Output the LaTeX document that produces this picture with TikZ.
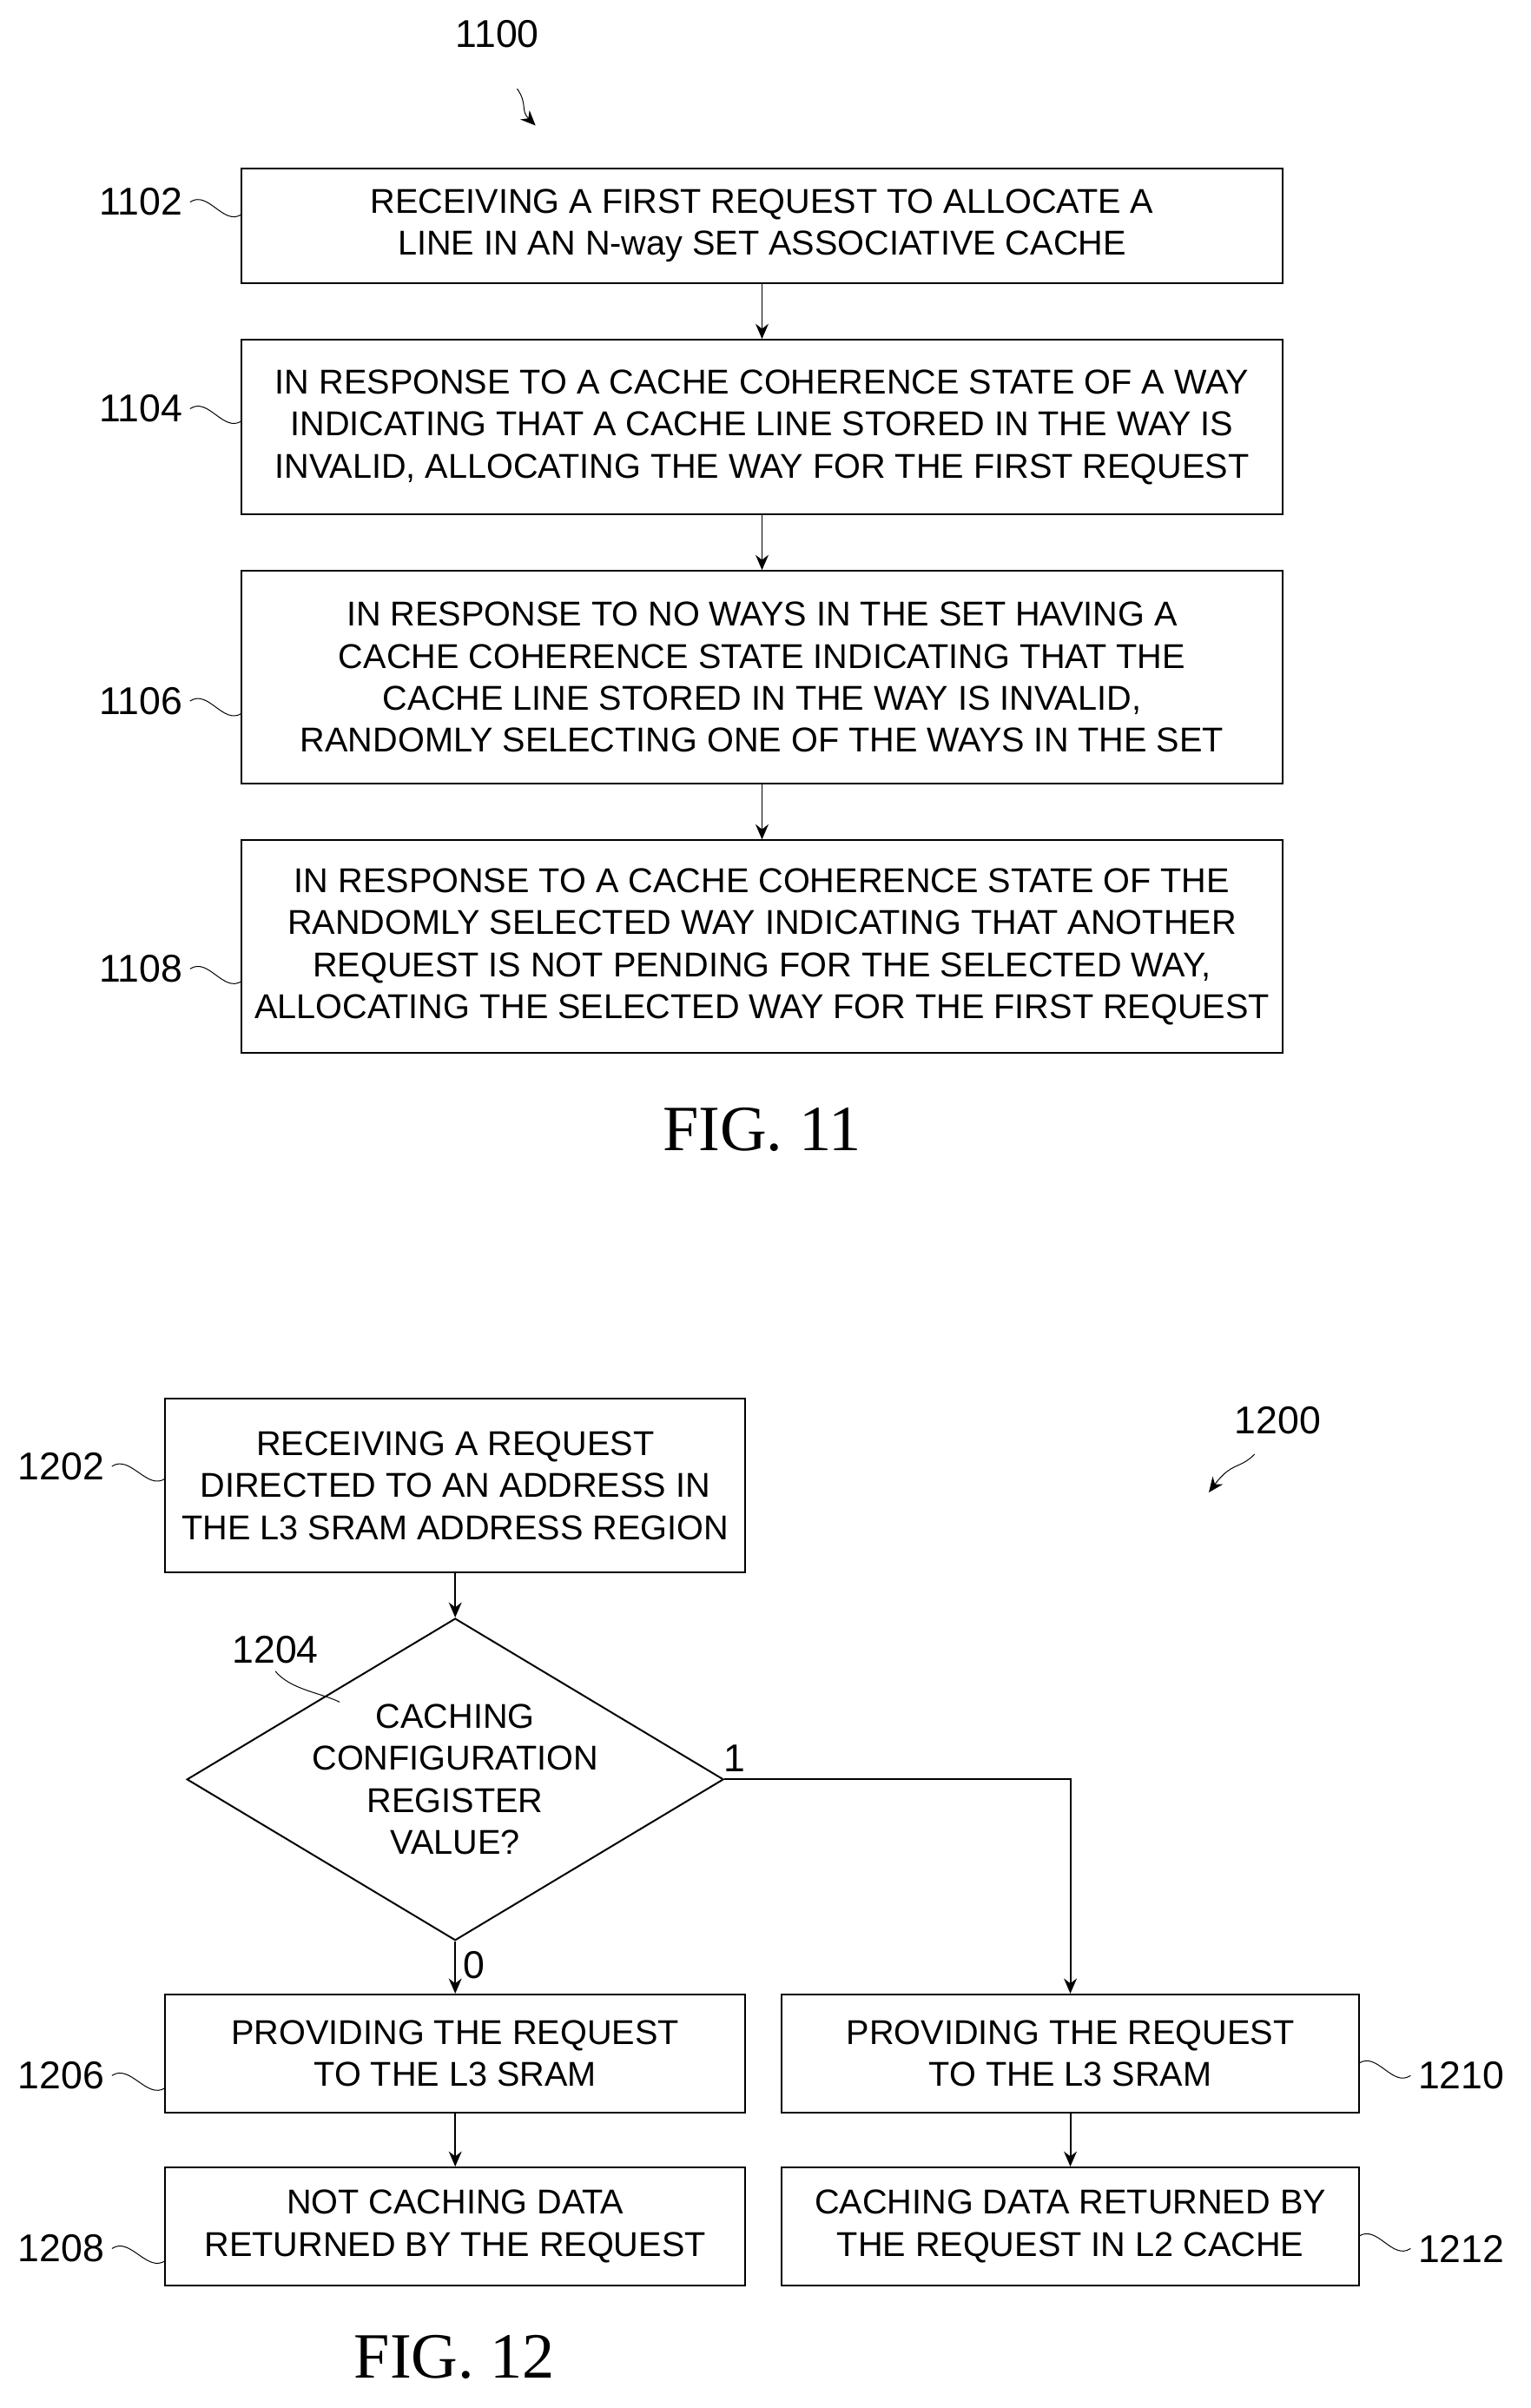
\documentclass[tikz,border=0pt]{standalone}
\usepackage{fontspec}
\setmainfont{Liberation Serif}
\setsansfont{Liberation Sans}
\usetikzlibrary{shapes.geometric,arrows.meta,positioning}
\tikzset{
  blk/.style={draw, thick, minimum width=17cm, align=center, font=\sffamily\fontsize{16}{19.5}\selectfont},
  lbl/.style={font=\sffamily\fontsize{18}{20}\selectfont},
  flow/.style={thick,-{Stealth[length=7pt,width=6pt]}},
  tick/.style={thin},
}
\begin{document}
\begin{tikzpicture}[x=0.025cm,y=-0.025cm]
\useasboundingbox (0,0) rectangle (1000,1573.2);

% FIG. 11
\node[lbl] (n1100) at (325,22) {1100};
\draw[flow,thin] (338,58) .. controls (345,68) and (340,72) .. (350,82);

\node[blk, minimum height=1.875cm] (s1102) at (498,147.5) {RECEIVING A FIRST REQUEST TO ALLOCATE A\\LINE IN AN N-way SET ASSOCIATIVE CACHE};
\node[blk, minimum height=2.85cm] (s1104) at (498,279) {IN RESPONSE TO A CACHE COHERENCE STATE OF A WAY\\INDICATING THAT A CACHE LINE STORED IN THE WAY IS\\INVALID, ALLOCATING THE WAY FOR THE FIRST REQUEST};
\node[blk, minimum height=3.475cm] (s1106) at (498,442.5) {IN RESPONSE TO NO WAYS IN THE SET HAVING A\\CACHE COHERENCE STATE INDICATING THAT THE\\CACHE LINE STORED IN THE WAY IS INVALID,\\RANDOMLY SELECTING ONE OF THE WAYS IN THE SET};
\node[blk, minimum height=3.475cm] (s1108) at (498,618.5) {IN RESPONSE TO A CACHE COHERENCE STATE OF THE\\RANDOMLY SELECTED WAY INDICATING THAT ANOTHER\\REQUEST IS NOT PENDING FOR THE SELECTED WAY,\\ALLOCATING THE SELECTED WAY FOR THE FIRST REQUEST};

\draw[flow] (s1102) -- (s1104);
\draw[flow] (s1104) -- (s1106);
\draw[flow] (s1106) -- (s1108);

\node[lbl] (l1102) at (92,132) {1102};
\node[lbl] (l1104) at (92,267) {1104};
\node[lbl] (l1106) at (92,458) {1106};
\node[lbl] (l1108) at (92,633) {1108};
\foreach \n/\y in {1102/132,1104/267,1106/458,1108/633}
  \draw[tick] (l\n.east) .. controls +(12,-8) and +(-12,8) .. (158,\y+8);

\node[font=\fontsize{30}{32}\selectfont] (fig11) at (498,738) {FIG. 11};

% FIG. 12
\node[lbl] (n1200) at (835,928) {1200};
\draw[flow,thin] (820,950) .. controls (810,960) and (805,955) .. (790,975);

\node[blk, minimum width=9.475cm, minimum height=2.825cm] (s1202) at (297.5,970.5) {RECEIVING A REQUEST\\DIRECTED TO AN ADDRESS IN\\THE L3 SRAM ADDRESS REGION};
\node[draw, thick, diamond, aspect=1.667, minimum width=8.125cm, minimum height=4.875cm, inner sep=0pt, align=center, font=\sffamily\fontsize{16}{19.5}\selectfont] (d1204) at (297.5,1162.5) {CACHING\\CONFIGURATION\\REGISTER\\VALUE?};
\node[blk, minimum width=9.475cm, minimum height=1.925cm] (s1206) at (297.5,1341.5) {PROVIDING THE REQUEST\\TO THE L3 SRAM};
\node[blk, minimum width=9.425cm, minimum height=1.925cm] (s1210) at (699.5,1341.5) {PROVIDING THE REQUEST\\TO THE L3 SRAM};
\node[blk, minimum width=9.475cm, minimum height=1.925cm] (s1208) at (297.5,1454.5) {NOT CACHING DATA\\RETURNED BY THE REQUEST};
\node[blk, minimum width=9.425cm, minimum height=1.925cm] (s1212) at (699.5,1454.5) {CACHING DATA RETURNED BY\\THE REQUEST IN L2 CACHE};

\draw[flow] (s1202) -- (d1204);
\draw[flow] (d1204) -- node[pos=0.45,right,lbl] {0} (s1206);
\draw[flow] (d1204.east) -- node[pos=0.03,above,lbl] {1} (s1210.north |- d1204.east) -- (s1210);
\draw[flow] (s1206) -- (s1208);
\draw[flow] (s1210) -- (s1212);

\node[lbl] (l1202) at (40,958) {1202};
\node[lbl] (l1204) at (180,1078) {1204};
\node[lbl] (l1206) at (40,1356) {1206};
\node[lbl] (l1208) at (40,1469) {1208};
\node[lbl] (l1210) at (955,1356) {1210};
\node[lbl] (l1212) at (955,1469) {1212};
\foreach \n/\y in {1202/958,1206/1356,1208/1469}
  \draw[tick] (l\n.east) .. controls +(12,-8) and +(-12,8) .. (108,\y+8);
\foreach \n/\y in {1210/1356,1212/1469}
  \draw[tick] (l\n.west) .. controls +(-12,8) and +(12,-8) .. (888,\y-8);
\draw[tick] (l1204.south) .. controls +(10,12) and +(-12,-6) .. (222,1112);

\node[font=\fontsize{30}{32}\selectfont] (fig12) at (297,1540) {FIG. 12};
\end{tikzpicture}
\end{document}
